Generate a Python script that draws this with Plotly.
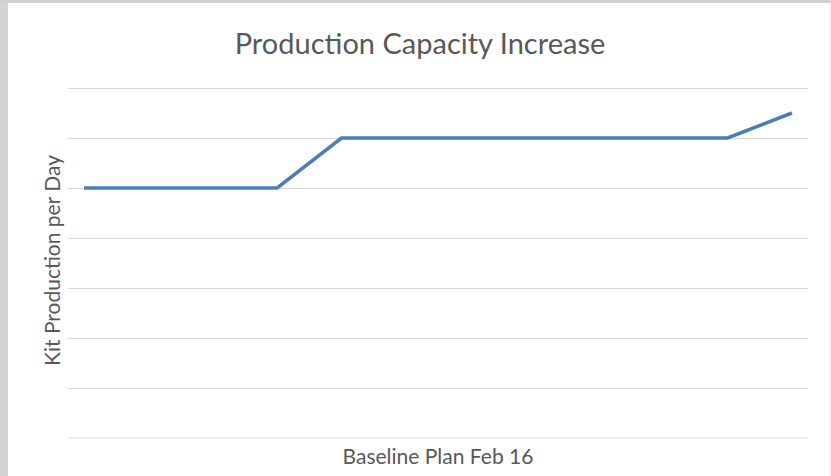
import plotly.graph_objects as go

# Data
periods = list(range(12))
kits_per_day = [50, 50, 50, 50, 60, 60, 60, 60, 60, 60, 60, 65]

W, H = 831, 476
fig = go.Figure()
fig.add_trace(go.Scatter(
    x=periods, y=kits_per_day, mode="lines",
    line=dict(color="#4a7ebb", width=3.5),
    hoverinfo="skip", showlegend=False,
))

gray_txt = "#595959"
PH = 355  # plot height in px
fig.update_layout(
    width=W, height=H,
    margin=dict(l=68, r=23, t=83, b=38, autoexpand=False),
    paper_bgcolor="white", plot_bgcolor="white",
    title=dict(text="Production Capacity Increase", x=420 / W, xanchor="center",
               y=1 - 44 / H, yanchor="middle",
               font=dict(family="Lato", size=29, color=gray_txt)),
    xaxis=dict(range=[-0.25, 11.25], showgrid=False, zeroline=False,
               showticklabels=False, ticks="", showline=False, automargin=False,
               title=dict(text="Baseline Plan Feb 16", standoff=11,
                          font=dict(family="Lato", size=21, color=gray_txt))),
    yaxis=dict(range=[0, 71], dtick=10, showgrid=True, gridcolor="#d9d9d9",
               gridwidth=1, zeroline=False, showticklabels=False, ticks="",
               showline=False, automargin=False,
               title=dict(text="Kit Production per Day", standoff=0,
                          font=dict(family="Lato", size=21, color=gray_txt))),
    shapes=[
        dict(type="line", xref="paper", yref="paper", x0=0, x1=1, y0=0, y1=0,
             line=dict(color="#d9d9d9", width=1)),
        dict(type="rect", xref="paper", yref="paper", x0=-68 / 740, x1=-60 / 740,
             y0=-38 / PH, y1=(PH + 83) / PH, fillcolor="#d4d4d4", line_width=0,
             layer="below"),
        dict(type="rect", xref="paper", yref="paper", x0=-68 / 740, x1=(740 + 23) / 740,
             y0=(PH + 80) / PH, y1=(PH + 83) / PH, fillcolor="#cfcfcf", line_width=0,
             layer="below"),
        dict(type="line", xref="paper", yref="paper", x0=(740 + 22) / 740, x1=(740 + 22) / 740,
             y0=-38 / PH, y1=(PH + 83) / PH, line=dict(color="#e6e6e6", width=1)),
    ],
)

fig.write_html("out.html", config={"displayModeBar": False},
               post_script="document.body.style.margin='0';")
